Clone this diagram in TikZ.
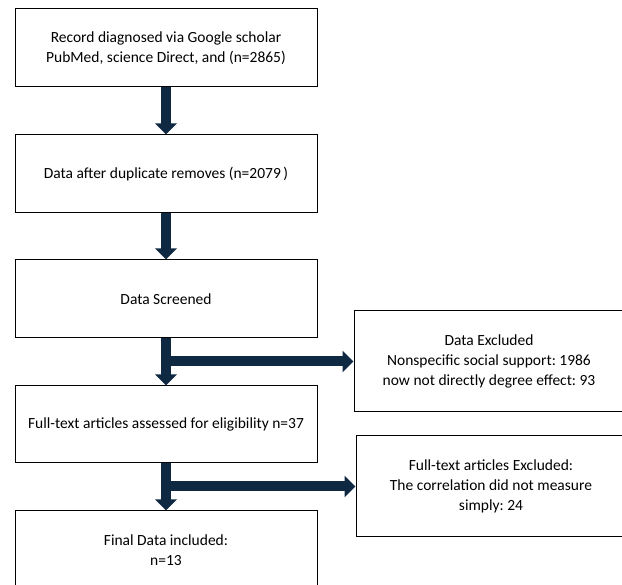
\documentclass[tikz,border=0pt]{standalone}
\usepackage{fontspec}
\setmainfont{Carlito}
\usepackage{xcolor}
\usetikzlibrary{arrows.meta}
\definecolor{arrownavy}{RGB}{16,41,66}
\frenchspacing

\begin{document}
\begin{tikzpicture}[x=1pt,y=-1pt,
	box/.style={draw=black,line width=1pt,align=center,inner sep=0pt,
		font=\fontsize{15.5}{20}\selectfont,minimum width=302pt,minimum height=78pt},
	sidebox/.style={box,minimum width=270pt,minimum height=101pt},
	fat/.style={arrownavy,line width=10pt,-{Triangle[width=21pt,length=11pt]}}]
	\useasboundingbox (0,0) rectangle (622,585);

	\node[box] (rec)  at (166,48)    {Record diagnosed via Google scholar\\PubMed, science Direct, and (n=2865)};
	\node[box] (dup)  at (166,174)   {Data after duplicate removes (n=2079\,)};
	\node[box] (scr)  at (166,299)   {Data Screened};
	\node[box,minimum height=77pt] (full) at (166,424.5) {Full-text articles assessed for eligibility n=37};
	\node[box] (fin)  at (166,550)   {Final Data included:\\n=13};

	\node[sidebox] (exc)  at (489,361.5) {Data Excluded\\Nonspecific social support: 1986\\now not directly degree effect: 93};
	\node[sidebox] (fexc) at (491,486.5) {Full-text articles Excluded:\\The correlation did not measure\\simply: 24};

\draw[fat] (rec.south) -- (dup.north); \draw[fat] (dup.south) -- (scr.north); \draw[fat] (scr.south) -- (full.north); \draw[fat] (full.south) -- (fin.north);
\draw[fat] (scr.south |- exc.west) -- (exc.west); \draw[fat] (full.south |- fexc.west) -- (fexc.west);

\end{tikzpicture}
\end{document}
